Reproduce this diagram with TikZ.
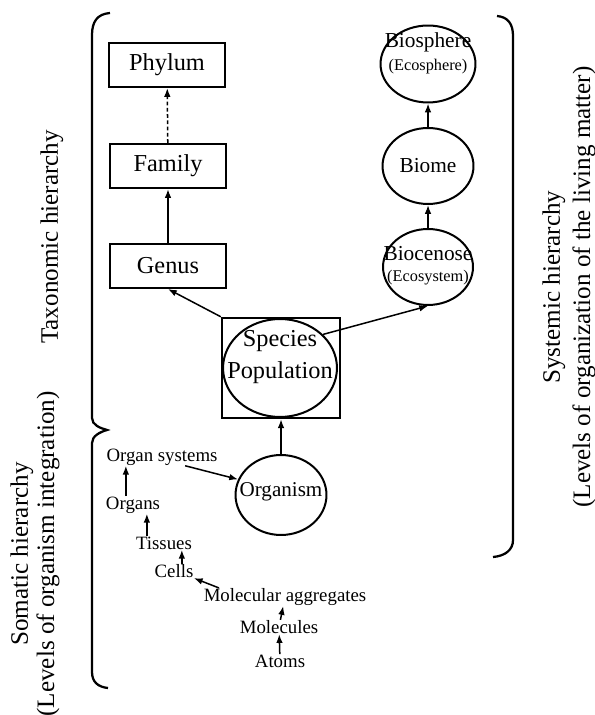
\documentclass[tikz,border=0pt]{standalone}
\usepackage{fontspec}
\setmainfont{Liberation Serif}
\usetikzlibrary{shapes.geometric,arrows.meta}

\tikzset{
  taxbox/.style={draw, rectangle, line width=1pt, minimum width=1.62cm, minimum height=0.61cm, font=\fontsize{9.7}{11}\selectfont},
  syscirc/.style={draw, ellipse, line width=0.8pt, inner sep=0pt, font=\fontsize{8.5}{9}\selectfont},
  subtxt/.style={inner sep=0pt, font=\fontsize{6.5}{7}\selectfont},
  lvl/.style={inner sep=0pt, font=\fontsize{7.5}{8}\selectfont},
  sidetxt/.style={rotate=90, align=center, inner sep=0pt},
  upar/.style={-{Latex[length=3.5pt,width=2.6pt]}, line width=0.6pt},
}

\begin{document}
\begin{tikzpicture}[x=0.014cm, y=-0.014cm]
	\useasboundingbox (0,0) rectangle (594,715);

	% Taxonomic hierarchy
	\node[taxbox] (phylum) at (167,65) {Phylum};
	\node[taxbox] (family) at (168,166) {Family};
	\node[taxbox] (genus) at (168,266) {Genus};

	% Species population
	\node[draw, rectangle, line width=1pt, minimum width=1.652cm, minimum height=1.4cm] (popbox) at (281,368) {};
	\node[draw, ellipse, line width=0.8pt, minimum width=1.596cm, minimum height=1.372cm] (pop) at (280,368) {};
	\node[align=center, inner sep=0pt, font=\fontsize{9.7}{12.4}\selectfont] (poptxt) at (280,357) {Species\\Population};

	% Systemic hierarchy
	\node[syscirc, minimum width=1.26cm, minimum height=1.064cm] (bioc) at (428,267) {};
	\node[inner sep=0pt, font=\fontsize{8.5}{9}\selectfont] (bioctxt) at (428,254) {Biocenose};
	\node[subtxt] (biocsub) at (428,278) {(Ecosystem)};
	\node[syscirc, minimum width=1.274cm, minimum height=1.064cm] (biome) at (428,166) {Biome};
	\node[syscirc, minimum width=1.33cm, minimum height=1.078cm] (biosph) at (428,64) {};
	\node[inner sep=0pt, font=\fontsize{8.5}{9}\selectfont] (biosphtxt) at (428,42) {Biosphere};
	\node[subtxt] (biosphsub) at (428,67) {(Ecosphere)};

	% Somatic hierarchy
	\node[syscirc, minimum width=1.274cm, minimum height=1.12cm] (organism) at (281,495) {};
	\node[inner sep=0pt, font=\fontsize{8.4}{9}\selectfont] (organismtxt) at (281,492) {Organism};
	\node[lvl] (organsys) at (162,457) {Organ systems};
	\node[lvl] (organs) at (133,505) {Organs};
	\node[lvl] (tissues) at (164,543) {Tissues};
	\node[lvl] (cells) at (174,571) {Cells};
	\node[lvl] (molagg) at (285,597) {Molecular aggregates};
	\node[lvl] (molec) at (279,627) {Molecules};
	\node[lvl] (atoms) at (280,661) {Atoms};

	% arrows
	\draw[upar, dash pattern=on 1.5pt off 1pt] (family) -- (phylum);
	\draw[upar] (genus) -- (family);
	\draw[upar] (popbox.north west) -- (genus.south);
	\draw[upar] (pop.38) -- (bioc.south);
	\draw[upar] (bioc) -- (biome);
	\draw[upar] (biome) -- (biosph);
	\draw[upar] (organism) -- (popbox);
	\draw[upar] ([xshift=-0.46cm]organsys.south east) -- (organism.160);
	\draw[upar] ([xshift=-0.1cm]organs.north) -- ([xshift=-0.1cm]organs.north |- organsys.south);
	\draw[upar] ([xshift=-0.24cm]tissues.north) -- ([xshift=-0.24cm]tissues.north |- organs.south);
	\draw[upar] ([xshift=0.11cm]cells.north) -- ([xshift=0.11cm]cells.north |- tissues.south);
	\draw[upar] ([xshift=0.22cm]molagg.north west) -- (cells.south east);
	\draw[upar] (molec) -- (molagg);
	\draw[upar] (atoms) -- (molec);

	% brackets
	\draw[line width=0.9pt] (110,13) .. controls (97,14) and (92,22) .. (92,35) -- (92,418)
		.. controls (92,425) and (100,428) .. (107,430) .. controls (100,432) and (92,436) .. (92,443)
		-- (92,672) .. controls (92,682) and (98,687) .. (108,688);
	\draw[line width=0.9pt] (497,16) .. controls (508,17) and (513,24) .. (513,36) -- (513,540)
		.. controls (513,550) and (505,556) .. (493,557);

	% side labels
	\node[sidetxt, font=\fontsize{10}{12}\selectfont] (taxlbl) at (52,237) {Taxonomic hierarchy};
	\node[sidetxt, font=\fontsize{10}{10.5}\selectfont] (somlbl) at (35,554) {Somatic hierarchy\\(Levels of organism integration)};
	\node[sidetxt, font=\fontsize{10}{12}\selectfont] (syslbl) at (569,287) {Systemic hierarchy\\(Levels of organization of the living matter)};
\end{tikzpicture}
\end{document}
